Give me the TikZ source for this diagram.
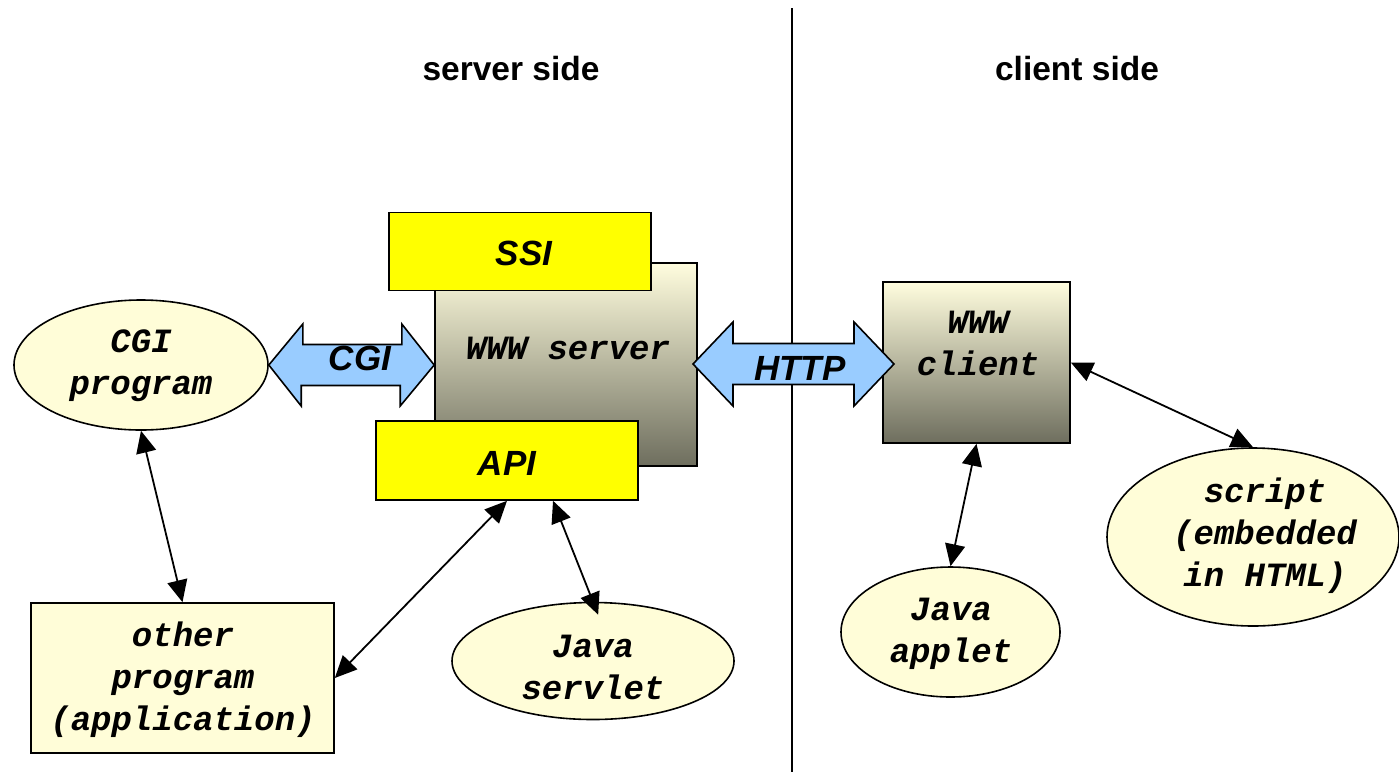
\documentclass[tikz,border=0pt]{standalone}
\usepackage{fontspec}
\setsansfont{Liberation Sans}
\setmonofont{Liberation Mono}
\usetikzlibrary{arrows.meta,shapes.geometric}
\definecolor{cream}{RGB}{255,253,216}
\definecolor{gradtop}{RGB}{255,253,222}
\definecolor{gradbot}{RGB}{110,110,94}
\definecolor{yel}{RGB}{255,255,0}
\definecolor{lblue}{RGB}{153,204,255}
\begin{document}
\begin{tikzpicture}[x=1pt,y=-1pt,
  mono/.style={font=\fontsize{34}{42}\selectfont\ttfamily\bfseries\itshape, align=center, inner sep=0pt},
  sanslbl/.style={font=\fontsize{35}{40}\selectfont\sffamily\bfseries\itshape, inner sep=0pt},
  header/.style={font=\fontsize{33.5}{40}\selectfont\sffamily\bfseries, inner sep=0pt},
  gradbox/.style={draw=black, line width=1.6pt, top color=gradtop, bottom color=gradbot, inner sep=0pt},
  yelbox/.style={draw=black, line width=1.6pt, fill=yel, inner sep=0pt},
  creambox/.style={draw=black, line width=1.6pt, fill=cream, inner sep=0pt, mono},
  creamell/.style={ellipse, draw=black, line width=1.6pt, fill=cream, inner sep=0pt, mono},
  blockarrow/.style={draw=black, line width=1.6pt, fill=lblue, line join=miter},
  link/.style={line width=1.8pt, {Triangle[length=22pt,width=20pt]}-{Triangle[length=22pt,width=20pt]}}
]
\useasboundingbox (0,0) rectangle (1399,772);

% divider
\coordinate (divtop) at (792,8);
\coordinate (divbot) at (792,772);
\draw[line width=1.6pt] (divtop) -- (divbot);

% headers
\node[header] (hserver) at (511,69) {server side};
\node[header] (hclient) at (1077,69) {client side};

% server
\node[gradbox, minimum width=262pt, minimum height=203pt] (srv) at (566,364.5) {};
\node[mono] (srvtxt) at (568,348) {WWW server};
\node[yelbox, minimum width=262pt, minimum height=78pt] (ssi) at (520,251.5) {};
\node[sanslbl] (ssitxt) at (524,253) {SSI};
\node[yelbox, minimum width=262pt, minimum height=79pt] (api) at (507,460.5) {};
\node[sanslbl] (apitxt) at (507,463) {API};

% client
\node[gradbox, minimum width=187pt, minimum height=161pt] (cli) at (976.5,362.5) {};
\node[mono] (clitxt) at (978,343) {WWW\\client};

% other nodes
\node[creamell, minimum width=254pt, minimum height=130pt] (cgiprog) at (141,365) {};
\node[mono] (cgiprogtxt) at (141,366) {CGI\\program};
\node[creambox, draw=black, minimum width=303pt, minimum height=150pt] (other) at (182.5,678) {};
\node[mono] (othertxt) at (183,680) {other\\program\\(application)};
\node[creamell, minimum width=282pt, minimum height=117pt] (servlet) at (593,661) {};
\node[mono] (servlettxt) at (593,667) {Java\\servlet};
\node[creamell, minimum width=219pt, minimum height=130pt] (applet) at (950.5,632) {};
\node[mono] (applettxt) at (951,634) {Java\\applet};
\node[creamell, minimum width=292pt, minimum height=178pt] (script) at (1253,537) {};
\node[mono] (scripttxt) at (1265,536) {script\\(embedded\\in HTML)};

% block arrows
\draw[blockarrow] (cgiprog.east) -- ++(34,-41) -- ++(0,20.5) -- ++(99,0) -- ++(0,-20.5)
  -- (srv.west |- cgiprog.east) -- ++(-34,41) -- ++(0,-20.5) -- ++(-99,0) -- ++(0,20.5) -- cycle;
\node[sanslbl] (cgilbl) at (360,358) {CGI};

\coordinate (httpl) at (693,364);
\draw[blockarrow] (httpl) -- ++(40,-42) -- ++(0,21.5) -- ++(121,0) -- ++(0,-21.5)
  -- ++(40,42) -- ++(-40,42) -- ++(0,-21.5) -- ++(-121,0) -- ++(0,21.5) -- cycle;
\node[sanslbl] (httplbl) at (800,368) {HTTP};

% links
\draw[link] (cgiprog.south) -- (other.north);
\draw[link] (api.south) -- (other.east);
\draw[link, shorten >=-14pt] ([xshift=46pt]api.south) -- (servlet.north);
\draw[link] (cli.south) -- (applet.north);
\draw[link] (cli.east) -- (script.north);
\end{tikzpicture}
\end{document}
